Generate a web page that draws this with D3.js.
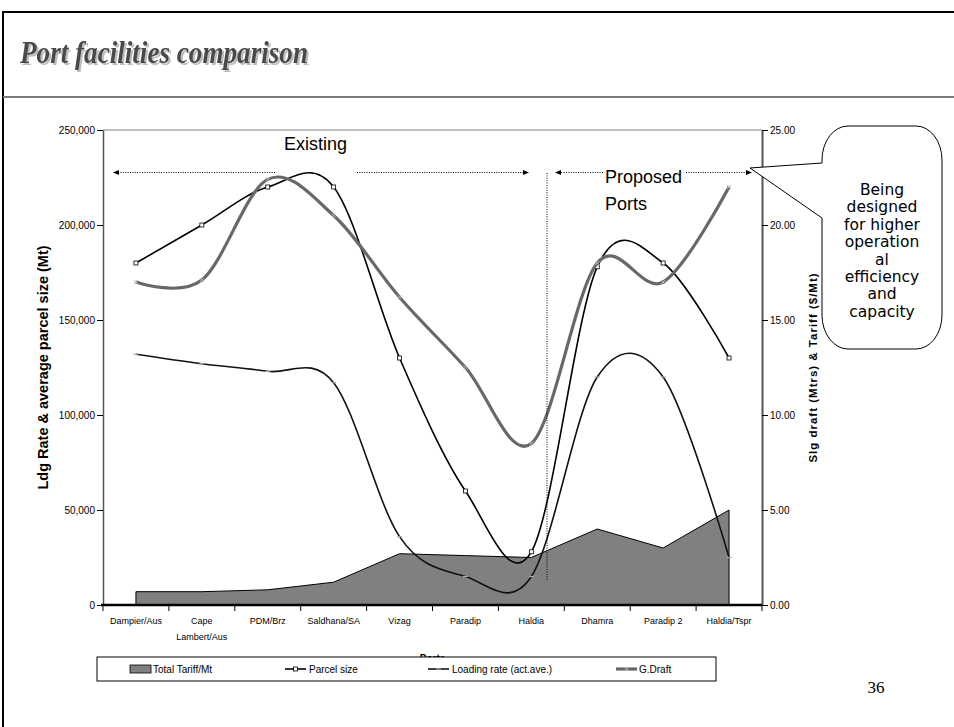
<!DOCTYPE html>
<html><head><meta charset="utf-8">
<script src="https://cdn.jsdelivr.net/npm/d3@7"></script>
<style>body{margin:0;background:#fff} svg{display:block}</style>
</head><body>
<svg id="c" width="954" height="727"></svg>
<script>
// ---------- data ----------
const categories = ["Dampier/Aus","Cape Lambert/Aus","PDM/Brz","Saldhana/SA","Vizag","Paradip","Haldia","Dhamra","Paradip 2","Haldia/Tspr"];
const tariff  = [0.7, 0.7, 0.8, 1.2, 2.7, 2.6, 2.5, 4.0, 3.0, 5.0];            // $/Mt (right axis)
const parcel  = [180000, 200000, 220000, 220000, 130000, 60000, 28000, 178000, 180000, 130000]; // Mt (left axis)
const loading = [132000, 127000, 123000, 117000, 36000, 15000, 15000, 120000, 120000, 25000];   // Mt (left axis)
const draft   = [17.0, 17.1, 22.4, 20.5, 16.2, 12.5, 8.5, 18.0, 17.0, 22.0];  // Mtrs (right axis)
const leftTicks  = [0, 50000, 100000, 150000, 200000, 250000];
const rightTicks = [0, 5, 10, 15, 20, 25];
const seriesNames = ["Total Tariff/Mt", "Parcel size", "Loading rate (act.ave.)", "G.Draft"];
const calloutLines = ["Being", "designed", "for higher", "operation", "al", "efficiency", "and", "capacity"];

// ---------- setup ----------
const svg = d3.select("#c");
const SANS = "'Liberation Sans', Arial, sans-serif";
const M = {left:103, right:762, top:130, bottom:605};
const x = d3.scaleBand().domain(categories).range([M.left, M.right]).padding(0);
const cx = (d, i) => x(categories[i]) + x.bandwidth() / 2;
const yL = d3.scaleLinear().domain([0, 250000]).range([M.bottom, M.top]);
const yR = d3.scaleLinear().domain([0, 25]).range([M.bottom, M.top]);

const defs = svg.append("defs");
const f = defs.append("filter").attr("id", "sh").attr("x", "-5%").attr("y", "-20%").attr("width", "115%").attr("height", "150%");
f.append("feDropShadow").attr("dx", 2).attr("dy", 2).attr("stdDeviation", 0.3)
  .attr("flood-color", "#bdbdbd").attr("flood-opacity", 1);

// slide frame
svg.append("rect").attr("x", 3).attr("y", 12).attr("width", 960).attr("height", 730)
  .attr("fill", "none").attr("stroke", "#000").attr("stroke-width", 2);
svg.append("line").attr("x1", 3).attr("x2", 954).attr("y1", 97).attr("y2", 97)
  .attr("stroke", "#7a7a7a").attr("stroke-width", 2);

// title with shadow
svg.append("text").attr("x", 20).attr("y", 63)
  .attr("font-family", "'Liberation Serif', 'Times New Roman', serif")
  .attr("font-style", "italic").attr("font-weight", "bold").attr("font-size", 31)
  .attr("textLength", 288).attr("lengthAdjust", "spacingAndGlyphs")
  .attr("fill", "#4a4a4a").attr("filter", "url(#sh)").text("Port facilities comparison");

// plot top border
svg.append("line").attr("x1", M.left).attr("x2", M.right).attr("y1", M.top).attr("y2", M.top)
  .attr("stroke", "#808080").attr("stroke-width", 1);

// ---------- tariff area ----------
const area = d3.area().x((d, i) => cx(d, i)).y0(M.bottom).y1(d => yR(d));
svg.append("path").datum(tariff).attr("d", area)
  .attr("fill", "#808080").attr("stroke", "#000").attr("stroke-width", 1);

// ---------- lines ----------
const curve = d3.curveCardinal.tension(0);
const lineL = d3.line().x((d, i) => cx(d, i)).y(d => yL(d)).curve(curve);
const lineR = d3.line().x((d, i) => cx(d, i)).y(d => yR(d)).curve(curve);

svg.append("path").datum(loading).attr("d", lineL).attr("fill", "none")
  .attr("stroke", "#111").attr("stroke-width", 1.6);
svg.append("g").selectAll("line").data(loading).join("line")
  .attr("x1", (d, i) => cx(d, i) - 2.5).attr("x2", (d, i) => cx(d, i) + 2.5)
  .attr("y1", d => yL(d)).attr("y2", d => yL(d))
  .attr("stroke", "#aaa").attr("stroke-width", 1.2);

svg.append("path").datum(parcel).attr("d", lineL).attr("fill", "none")
  .attr("stroke", "#000").attr("stroke-width", 1.6);
svg.append("g").selectAll("rect").data(parcel).join("rect")
  .attr("x", (d, i) => cx(d, i) - 2).attr("y", d => yL(d) - 2)
  .attr("width", 4).attr("height", 4)
  .attr("fill", "#fff").attr("stroke", "#000").attr("stroke-width", 0.8);

svg.append("path").datum(draft).attr("d", lineR).attr("fill", "none")
  .attr("stroke", "#686868").attr("stroke-width", 3.2);
const mk = svg.append("g").selectAll("g").data(draft).join("g")
  .attr("transform", (d, i) => `translate(${cx(d, i)},${yR(d)})`);
mk.append("path").attr("d", "M-2,-2L2,2M-2,2L2,-2").attr("stroke", "#bbb").attr("stroke-width", 1);

// ---------- axes ----------
const gL = svg.append("g").attr("transform", `translate(${M.left},0)`)
  .call(d3.axisLeft(yL).tickValues(leftTicks).tickFormat(d3.format(",")).tickSize(6).tickSizeOuter(0));
gL.select(".domain").attr("stroke", "#555").attr("stroke-width", 1.5);
gL.selectAll(".tick line").attr("stroke", "#000");
gL.selectAll(".tick text").attr("font-family", SANS).attr("font-size", 10).attr("fill", "#000").attr("x", -8);

const gR = svg.append("g").attr("transform", `translate(${M.right},0)`)
  .call(d3.axisRight(yR).tickValues(rightTicks).tickFormat(d3.format(".2f")).tickSize(6).tickSizeOuter(0));
gR.select(".domain").attr("stroke", "#555").attr("stroke-width", 2);
gR.selectAll(".tick line").attr("stroke", "#000");
gR.selectAll(".tick text").attr("font-family", SANS).attr("font-size", 10).attr("fill", "#000").attr("x", 8);

// x axis
const gX = svg.append("g");
gX.append("line").attr("x1", M.left - 2).attr("x2", M.right).attr("y1", M.bottom).attr("y2", M.bottom)
  .attr("stroke", "#000").attr("stroke-width", 2.5);
const bounds = categories.map(c => x(c)).concat([M.right]);
gX.selectAll("line.t").data(bounds).join("line").attr("class", "t")
  .attr("x1", d => d).attr("x2", d => d).attr("y1", M.bottom).attr("y2", M.bottom + 6)
  .attr("stroke", "#000").attr("stroke-width", 1);
categories.forEach((c, i) => {
  const t = gX.append("text").attr("x", cx(c, i)).attr("y", 624)
    .attr("text-anchor", "middle").attr("font-family", SANS).attr("font-size", 9).attr("fill", "#000").text(c);
  if (t.node().getComputedTextLength() > x.bandwidth() - 4) {
    const words = c.split(" ");
    t.text(null);
    words.forEach((w, j) => t.append("tspan").attr("x", cx(c, i)).attr("dy", j ? 16 : 0).text(w));
  }
});

// axis titles
svg.append("text").attr("transform", `translate(48,${(M.top + M.bottom) / 2}) rotate(-90)`)
  .attr("text-anchor", "middle").attr("font-family", SANS).attr("font-weight", "bold")
  .attr("font-size", 14.5).text("Ldg Rate & average parcel size (Mt)");
svg.append("text").attr("transform", `translate(817,${(M.top + M.bottom) / 2}) rotate(-90)`)
  .attr("text-anchor", "middle").attr("font-family", SANS).attr("font-weight", "bold")
  .attr("font-size", 11.5).attr("letter-spacing", 1).text("Slg draft (Mtrs) & Tariff ($/Mt)");
svg.append("text").attr("x", (M.left + M.right) / 2).attr("y", 662).attr("text-anchor", "middle")
  .attr("font-family", SANS).attr("font-weight", "bold").attr("font-size", 10).text("Ports");

// ---------- legend ----------
const lg = svg.append("g");
lg.append("rect").attr("x", 97).attr("y", 657).attr("width", 619).attr("height", 24)
  .attr("fill", "#fff").attr("stroke", "#000").attr("stroke-width", 1);
const ly = 669;
lg.append("rect").attr("x", 130).attr("y", ly - 4).attr("width", 21).attr("height", 8)
  .attr("fill", "#808080").attr("stroke", "#000").attr("stroke-width", 0.8);
lg.append("line").attr("x1", 285).attr("x2", 306).attr("y1", ly).attr("y2", ly).attr("stroke", "#000").attr("stroke-width", 1.6);
lg.append("rect").attr("x", 293.5).attr("y", ly - 2).attr("width", 4).attr("height", 4).attr("fill", "#fff").attr("stroke", "#000").attr("stroke-width", 0.8);
lg.append("line").attr("x1", 428).attr("x2", 449).attr("y1", ly).attr("y2", ly).attr("stroke", "#111").attr("stroke-width", 1.6);
lg.append("line").attr("x1", 436).attr("x2", 441).attr("y1", ly).attr("y2", ly).attr("stroke", "#aaa").attr("stroke-width", 1.2);
lg.append("line").attr("x1", 616).attr("x2", 637).attr("y1", ly).attr("y2", ly).attr("stroke", "#686868").attr("stroke-width", 3.2);
lg.append("path").attr("transform", `translate(626.5,${ly})`).attr("d", "M-2,-2L2,2M-2,2L2,-2").attr("stroke", "#bbb").attr("stroke-width", 1);
[[153, 0], [309, 1], [452, 2], [639, 3]].forEach(([lx, k]) => {
  lg.append("text").attr("x", lx).attr("y", ly + 3.5).attr("font-family", SANS).attr("font-size", 10)
    .attr("fill", "#000").text(seriesNames[k]);
});

// ---------- annotations ----------
const ann = svg.append("g");
function dotted(x1, y1, x2, y2) {
  ann.append("line").attr("x1", x1).attr("y1", y1).attr("x2", x2).attr("y2", y2)
    .attr("stroke", "#000").attr("stroke-width", 1).attr("stroke-dasharray", "1,1.4");
}
function head(xx, yy, dir) {
  ann.append("path").attr("d", `M${xx},${yy}L${xx - dir * 6},${yy - 2.5}L${xx - dir * 6},${yy + 2.5}Z`).attr("fill", "#000");
}
const ay = 172.5;
dotted(275, ay, 115, ay); head(113, ay, -1);
dotted(357, ay, 527, ay); head(529, ay, 1);
dotted(603, ay, 557, ay); head(555, ay, -1);
dotted(686, ay, 749, ay); head(752, ay, 1);
dotted(547, 173, 547, 580);

ann.append("text").attr("x", 284).attr("y", 150).attr("font-family", SANS).attr("font-size", 18).text("Existing");
ann.append("text").attr("x", 605).attr("y", 183).attr("font-family", SANS).attr("font-size", 18).text("Proposed");
ann.append("text").attr("x", 605).attr("y", 210).attr("font-family", SANS).attr("font-size", 18).text("Ports");

// callout
const X0 = 822, Y0 = 126, X1 = 942, Y1 = 349, RX = 26, RY = 34;
const cp = `M${X0},163 L750,168 L${X0},218 L${X0},${Y1 - RY} A${RX},${RY} 0 0 0 ${X0 + RX},${Y1}` +
  ` L${X1 - RX},${Y1} A${RX},${RY} 0 0 0 ${X1},${Y1 - RY} L${X1},${Y0 + RY} A${RX},${RY} 0 0 0 ${X1 - RX},${Y0}` +
  ` L${X0 + RX},${Y0} A${RX},${RY} 0 0 0 ${X0},${Y0 + RY} Z`;
ann.append("path").attr("d", cp).attr("fill", "#fff").attr("stroke", "#000").attr("stroke-width", 1);
calloutLines.forEach((t, i) => {
  ann.append("text").attr("x", 882).attr("y", 195 + i * 17.4).attr("text-anchor", "middle")
    .attr("font-family", "'DejaVu Sans', Verdana, sans-serif").attr("font-size", 15.5).attr("fill", "#000").text(t);
});

// page number
svg.append("text").attr("x", 876).attr("y", 693).attr("text-anchor", "middle")
  .attr("font-family", "'Liberation Serif', 'Times New Roman', serif").attr("font-size", 17).text("36");
</script>
</body></html>
